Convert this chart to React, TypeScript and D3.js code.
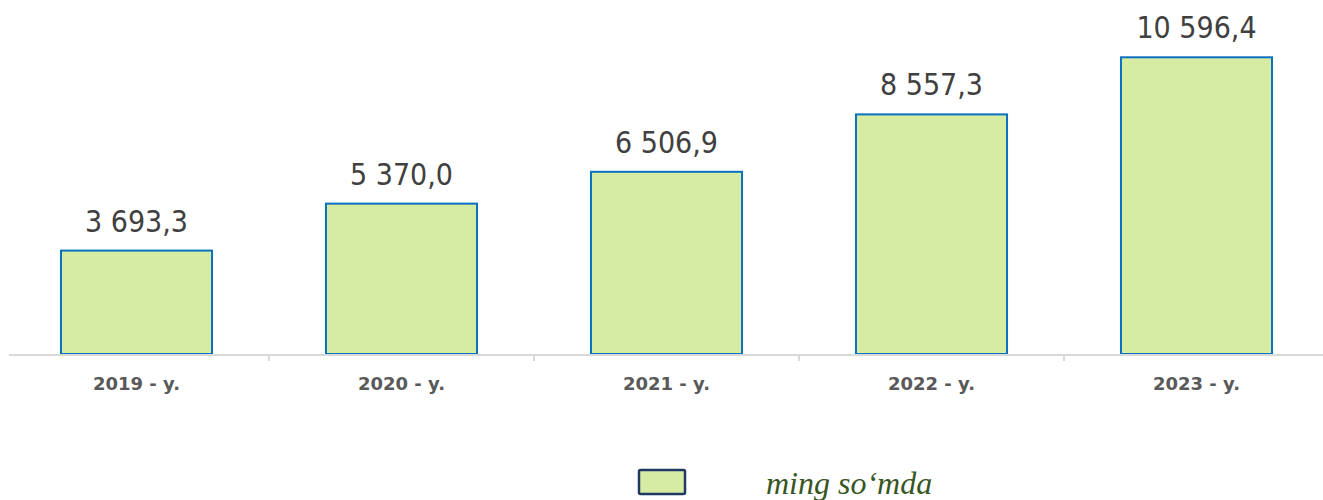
import React from "react";
import * as d3 from "d3";

const categories = ["2019 - y.", "2020 - y.", "2021 - y.", "2022 - y.", "2023 - y."];
const values = [3693.3, 5370.0, 6506.9, 8557.3, 10596.4];
const valueLabels = ["3 693,3", "5 370,0", "6 506,9", "8 557,3", "10 596,4"];
const legendLabel = "ming so\u2018mda";

const W = 1323;
const H = 500;
const baseY = 354;

export default function App() {
  const x = d3.scaleBand<string>().domain(categories).range([4, 1329]).paddingInner(0.43).paddingOuter(0.215);
  const y = d3.scaleLinear().domain([0, 12000]).range([baseY, 18]);
  const step = x.step();
  const r0 = 4;
  const ticks = d3.range(1, categories.length).map((i) => r0 + i * step);
  return (
    <svg width={W} height={H} style={{ position: "absolute", left: 0, top: 0 }}>
      <rect x={0} y={0} width={W} height={H} fill="#fff" />
      {categories.map((c, i) => {
        const bx = x(c)!;
        const by = y(values[i]);
        return (
          <g key={c}>
            <rect x={bx} y={by} width={x.bandwidth()} height={baseY - by} fill="#d7eca3" stroke="#0a70c0" strokeWidth={2} />
            <text x={bx + x.bandwidth() / 2} y={by - 19} textAnchor="middle" fontFamily="DejaVu Sans Condensed" fontSize={30} fill="#404040">
              {valueLabels[i]}
            </text>
            <text x={bx + x.bandwidth() / 2} y={390} textAnchor="middle" fontFamily="DejaVu Sans" fontWeight="bold" fontSize={18} fill="#595959">
              {c}
            </text>
          </g>
        );
      })}
      <line x1={9} x2={1323} y1={baseY + 1} y2={baseY + 1} stroke="#d9d9d9" strokeWidth={2} />
      {ticks.map((t, i) => (
        <line key={i} x1={t} x2={t} y1={baseY} y2={baseY + 7} stroke="#d9d9d9" strokeWidth={2} />
      ))}
      <rect x={639} y={470} width={46} height={24} fill="#d7eca3" stroke="#1f3864" strokeWidth={2.5} rx={1.5} />
      <text x={766} y={494} fontFamily="Liberation Serif" fontStyle="italic" fontSize={32} fill="#375623">
        {legendLabel}
      </text>
    </svg>
  );
}
